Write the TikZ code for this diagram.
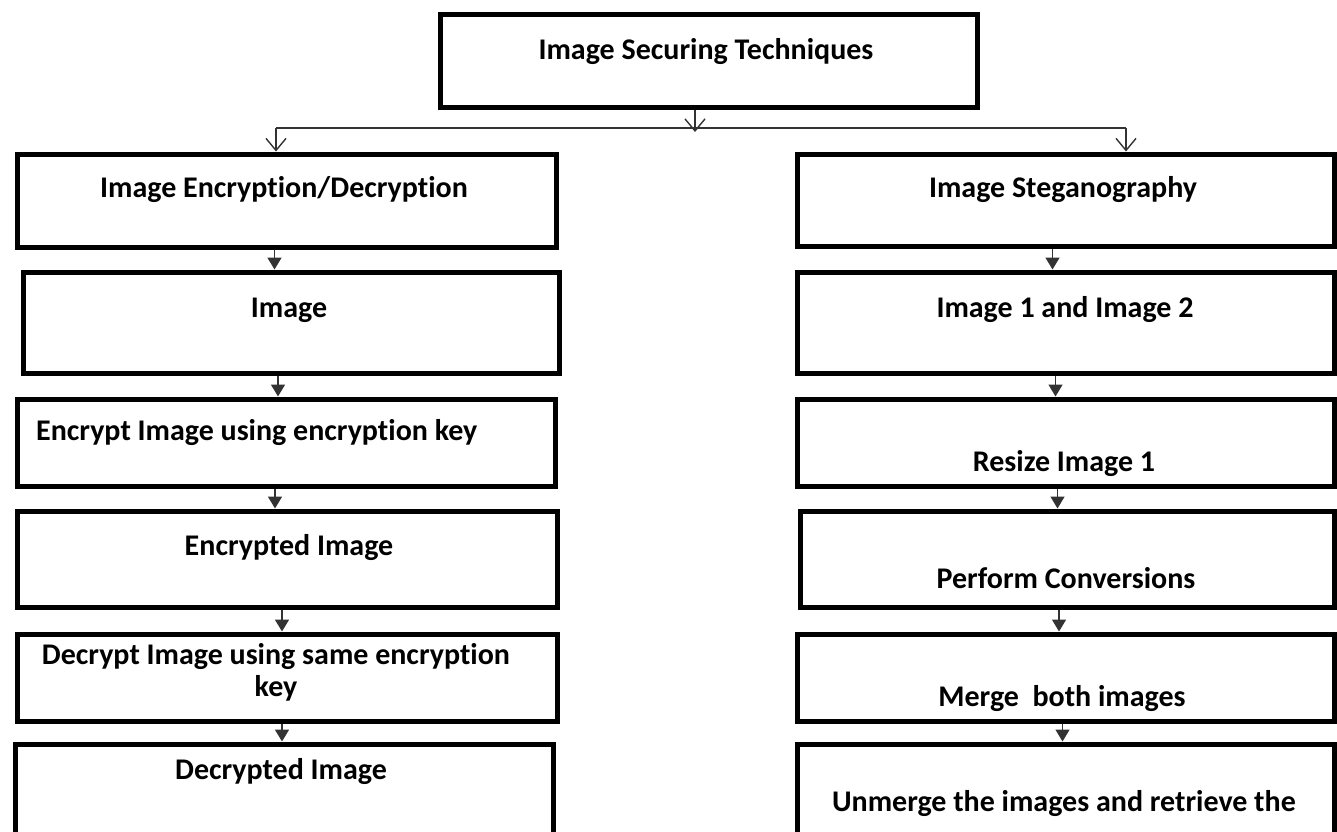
\documentclass[tikz,border=0pt]{standalone}
\usepackage{fontspec}
\setmainfont{Carlito}[Ligatures={NoCommon}]
\usetikzlibrary{arrows.meta}
\begin{document}
\begin{tikzpicture}[x=1pt,y=-1pt,
  box/.style={draw=black, line width=5pt, rectangle, anchor=north west, inner sep=0pt},
  txt/.style={font=\fontsize{30}{33}\selectfont\bfseries, inner sep=0pt, align=center},
  conn/.style={draw=black!80, line width=1.6pt},
  farr/.style={conn, -{Triangle[width=14pt,length=12pt]}},
  oarr/.style={conn, -{Straight Barb[width=20pt,length=12pt,line width=1.4pt]}}]
\useasboundingbox (0,0) rectangle (1337,831);
% top
\node[box, minimum width=537pt, minimum height=93pt] (top) at (437.5,11.5) {};
\node[txt] (ttop) at (706,52) {Image Securing Techniques};
% left column
\node[box, minimum width=539pt, minimum height=93pt] (b1) at (14.5,151.5) {};
\node[box, minimum width=536pt, minimum height=101pt] (b2) at (20.5,269.5) {};
\node[box, minimum width=538pt, minimum height=87pt] (b3) at (14.5,396.5) {};
\node[box, minimum width=540pt, minimum height=96pt] (b4) at (14.5,508.5) {};
\node[box, minimum width=540pt, minimum height=87pt] (b5) at (14.5,631.5) {};
\node[box, minimum width=538pt, minimum height=100pt] (b6) at (12.5,741.5) {};
\node[txt] (t1) at (284,190) {Image Encryption/Decryption};
\node[txt] (t2) at (289,310) {Image};
\node[txt, anchor=west] (t3) at (36,433) {Encrypt Image using encryption key};
\node[txt] (t4) at (289,548) {Encrypted Image};
\node[txt, font=\fontsize{30}{32}\selectfont\bfseries] (t5) at (276,672) {Decrypt Image using same encryption\\key};
\node[txt] (t6) at (281,771) {Decrypted Image};
% right column
\node[box, minimum width=537pt, minimum height=92pt] (r1) at (794.5,151.5) {};
\node[box, minimum width=537pt, minimum height=101pt] (r2) at (794.5,269.5) {};
\node[box, minimum width=537pt, minimum height=87pt] (r3) at (794.5,396.5) {};
\node[box, minimum width=534pt, minimum height=96pt] (r4) at (797.5,508.5) {};
\node[box, minimum width=537pt, minimum height=87pt] (r5) at (794.5,631.5) {};
\node[box, minimum width=537pt, minimum height=100pt] (r6) at (794.5,741.5) {};
\node[txt] (s1) at (1063,190) {Image Steganography};
\node[txt] (s2) at (1065,310) {Image 1 and Image 2};
\node[txt] (s3) at (1064,464) {Resize Image 1};
\node[txt] (s4) at (1066,578) {Perform Conversions};
\node[txt] (s5) at (1062,698) {Merge\ \ both images};
\node[txt] (s6) at (1064,803) {Unmerge the images and retrieve the};
% top connectors
\coordinate (hl) at (276,128);
\coordinate (hr) at (1126,128);
\coordinate (hc) at (695,128);
\draw[conn] (hl) -- (hr);
\draw[oarr] (top.south -| hc) -- ([yshift=-4pt]hc);
\draw[oarr] (hl) -- (hl |- b1.north);
\draw[oarr] (hr) -- (hr |- r1.north);
% left arrows
\draw[farr] ([xshift=-12pt]b1.south) -- ([xshift=-12pt]b1.south |- b2.north);
\draw[farr] ([xshift=-13pt]b2.south) -- ([xshift=-13pt]b2.south |- b3.north);
\draw[farr] ([xshift=-11pt]b3.south) -- ([xshift=-11pt]b3.south |- b4.north);
\draw[farr] ([xshift=-5pt]b4.south) -- ([xshift=-5pt]b4.south |- b5.north);
\draw[farr] ([xshift=-5pt]b5.south) -- ([xshift=-5pt]b5.south |- b6.north);
% right arrows
\draw[farr] ([xshift=-13pt]r1.south) -- ([xshift=-13pt]r1.south |- r2.north);
\draw[farr] ([xshift=-10pt]r2.south) -- ([xshift=-10pt]r2.south |- r3.north);
\draw[farr] ([xshift=-8pt]r3.south) -- ([xshift=-8pt]r3.south |- r4.north);
\draw[farr] ([xshift=-8pt]r4.south) -- ([xshift=-8pt]r4.south |- r5.north);
\draw[farr] ([xshift=-3pt]r5.south) -- ([xshift=-3pt]r5.south |- r6.north);
\end{tikzpicture}
\end{document}
